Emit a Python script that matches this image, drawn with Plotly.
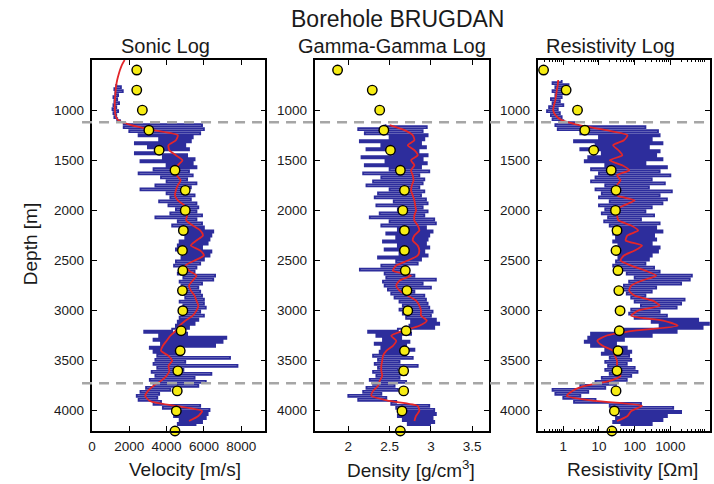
import numpy as np
import plotly.graph_objects as go

# ---------------- data ----------------
STEP_LOG = 20      # m, raw log sampling
STEP_SMOOTH = 50   # m, smoothed curve sampling
STEP_DOTS = 200    # m, dots sampling

dots_depth_start = 600
sonic_dots = [2400, 2400, 2700, 3050, 3600, 4450, 5000, 5000, 4900, 4850,
              4870, 4850, 4870, 4780, 4730, 4600, 4570, 4520, 4450]
density_dots = [1.87, 2.29, 2.38, 2.43, 2.51, 2.63, 2.68, 2.66, 2.68, 2.68,
                2.69, 2.71, 2.72, 2.70, 2.68, 2.67, 2.67, 2.65, 2.63]
resist_dots = [0.28, 1.2, 2.5, 4.0, 7.1, 22, 30, 29, 32, 30,
               34, 36, 39, 37, 34, 32, 30, 27, 23]

sonic_smooth_start = 500
sonic_smooth = [1750, 1600, 1500, 1420, 1350, 1300, 1270, 1250, 1230, 1220,
                1230, 1260, 1400, 2100, 3300, 4600, 4500, 4100, 4150, 4500,
                4850, 4600, 4500, 4550, 4750, 4600, 4500, 4450, 4600, 4950,
                5150, 5100, 5050, 5400, 5800, 5950, 5600, 5300, 5800, 6000,
                5500, 5000, 5200, 5600, 5400, 5200, 5300, 5500, 5600, 5700,
                5600, 5400, 5000, 4700, 4500, 4200, 4000, 3800, 3700, 4100,
                4300, 4100, 4150, 4000, 3700, 3300, 3000, 2850, 3100, 4500,
                5900, 5700, 5200]

density_smooth_start = 1150
density_smooth = [2.50, 2.68, 2.78, 2.80, 2.72, 2.80, 2.84, 2.76, 2.80, 2.76,
                  2.78, 2.79, 2.77, 2.76, 2.78, 2.80, 2.81, 2.82, 2.80, 2.80,
                  2.84, 2.86, 2.80, 2.78, 2.84, 2.86, 2.84, 2.72, 2.58, 2.54,
                  2.76, 2.62, 2.58, 2.62, 2.72, 2.82, 2.86, 2.88, 2.88, 2.95,
                  2.86, 2.66, 2.52, 2.58, 2.54, 2.46, 2.42, 2.41, 2.40, 2.40,
                  2.41, 2.38, 2.36, 2.30, 2.28, 2.50, 2.84, 2.86, 2.82, 2.80]

resist_smooth_start = 700
resist_smooth = [0.72, 0.70, 0.66, 0.63, 0.60, 0.55, 0.52, 0.60, 0.90, 2.8,
                 16, 63, 50, 25, 35, 45, 20, 45, 70, 32,
                 40, 32, 40, 32, 100, 50, 28, 32, 35, 80,
                 125, 63, 56, 160, 100, 50, 40, 80, 200, 400,
                 160, 80, 70, 100, 320, 500, 125, 80, 630, 1600,
                 100, 16, 9, 12.6, 25, 28, 32, 32, 35, 40,
                 20, 4, 1.8, 1.26, 8, 160, 80, 63, 32]

sonic_raw_start = 740
sonic_raw = [1300, 1550, 1200, 1650, 1250, 1400, 1150, 1350, 1200, 1450,
             1150, 1300, 1100, 1400, 1150, 1300, 1200, 1350, 1500, 1700,
             5900, 1700, 6000, 2000, 5800, 2500, 5400, 3600, 5300, 2300,
             5000, 3000, 5200, 3500, 2300, 5100, 3800, 5500, 2600, 5400,
             4000, 5600, 3300, 5200, 2500, 5400, 3700, 5100, 4000, 5600,
             3400, 5300, 2600, 5000, 4000, 5500, 4200, 5300, 3600, 5600,
             4100, 5700, 4500, 5600, 4200, 5900, 3400, 5600, 4600, 5900,
             4300, 6000, 4700, 6500, 4800, 6400, 5000, 6300, 4700, 6200,
             4600, 5900, 4500, 6400, 5000, 6300, 4800, 6000, 4500, 5800,
             4400, 5600, 4700, 5500, 4600, 6600, 4900, 6500, 4700, 5900,
             4800, 5700, 4700, 5800, 4900, 5900, 5000, 6000, 4700, 6000,
             4900, 6100, 5000, 5800, 4800, 6000, 4700, 5700, 4600, 5500,
             4500, 5200, 4300, 2800, 5100, 3600, 7200, 3300, 7000, 3700,
             6600, 3100, 4800, 3300, 4600, 3500, 7400, 3400, 5000, 3300,
             7800, 3500, 4900, 3200, 6400, 3400, 5500, 3100, 6100, 3300,
             5700, 2900, 4200, 2600, 3600, 2400, 3500, 2500, 3700, 3300,
             5800, 3800, 6300, 4600, 6200, 4400, 6100, 4700, 5900, 4600,
             5600]

density_raw_start = 1140
density_raw = [2.45, 2.95, 2.12, 2.90, 2.20, 2.96, 2.50, 2.92, 2.14, 2.88,
               2.40, 2.94, 2.22, 2.85, 2.55, 2.96, 2.16, 2.90, 2.45, 2.95,
               2.20, 2.88, 2.50, 2.98, 2.18, 2.86, 2.40, 2.92, 2.30, 2.90,
               2.22, 2.86, 2.50, 2.92, 2.36, 2.88, 2.32, 2.94, 2.55, 2.96,
               2.34, 2.90, 2.60, 2.96, 2.38, 2.92, 2.26, 3.04, 2.50, 3.06,
               2.40, 2.94, 2.60, 3.02, 2.46, 2.98, 2.58, 2.96, 2.42, 2.94,
               2.60, 2.98, 2.44, 2.92, 2.62, 2.96, 2.36, 2.88, 2.58, 2.84,
               2.40, 2.70, 2.14, 2.66, 2.44, 2.80, 2.46, 3.06, 2.42, 2.90,
               2.44, 3.00, 2.48, 2.80, 2.52, 2.92, 2.56, 2.94, 2.62, 2.96,
               2.66, 2.98, 2.62, 3.02, 2.66, 3.00, 2.70, 3.06, 2.76, 3.10,
               2.74, 3.04, 2.60, 2.24, 2.76, 2.34, 2.64, 2.42, 2.74, 2.32,
               2.70, 2.40, 2.80, 2.38, 2.66, 2.30, 2.78, 2.36, 2.62, 2.32,
               2.84, 2.36, 2.60, 2.30, 2.70, 2.34, 2.62, 2.26, 2.70, 2.30,
               2.56, 2.22, 2.60, 2.18, 2.40, 2.00, 2.46, 2.12, 2.58, 2.52,
               2.98, 2.58, 3.04, 2.70, 3.06, 2.60, 3.02, 2.66, 3.04, 2.72,
               3.00]

resist_raw_start = 700
resist_raw = [0.9, 0.5, 1.4, 0.6, 1.3, 0.5, 1.1, 0.6, 0.9, 0.45,
              0.8, 0.5, 1.0, 0.4, 0.7, 0.35, 0.8, 0.45, 0.9, 0.5,
              1.0, 2.0, 0.6, 200, 0.7, 450, 3, 500, 10, 300,
              2, 600, 8, 250, 3, 500, 12, 400, 5, 600,
              4, 200, 15, 800, 6, 500, 10, 1000, 8, 300,
              6, 700, 15, 250, 8, 1100, 12, 500, 10, 800,
              20, 600, 10, 300, 15, 200, 12, 350, 18, 150,
              14, 500, 20, 400, 30, 600, 25, 350, 30, 400,
              25, 300, 35, 500, 40, 450, 30, 300, 35, 250,
              30, 200, 25, 350, 40, 500, 60, 4000, 100, 3500,
              70, 2000, 50, 400, 40, 300, 60, 200, 80, 2500,
              100, 2000, 150, 1500, 80, 500, 70, 800, 100, 6000,
              300, 12000, 500, 8000, 40, 1500, 6, 300, 5, 50,
              4, 30, 6, 60, 15, 80, 12, 70, 20, 80,
              15, 60, 18, 100, 15, 120, 20, 80, 12, 60,
              8, 30, 3, 15, 0.5, 5, 0.6, 3, 1.0, 8,
              2, 150, 20, 1200, 30, 2000, 40, 800, 30, 600,
              25, 300, 40]

marker_depths = [1120, 3725]

x_ticks_sonic = [0, 2000, 4000, 6000, 8000]
x_ticks_density = [2, 2.5, 3, 3.5]
x_ticks_resist = [1, 10, 100, 1000]
y_ticks = [1000, 1500, 2000, 2500, 3000, 3500, 4000]


def depths(start, step, values):
    return start + step * np.arange(len(values))


# ---------------- styling ----------------
FONT = "Liberation Sans, Arial, Helvetica, sans-serif"
BLUE = "#2d2d9c"
RED = "#e3262a"
YELLOW = "#f6ec14"
TXT = "#1a1a1a"

W, H = 714, 484
L, R, T, B = 92, 2, 60, 53
PW, PH = W - L - R, H - T - B


def px_x(px):
    return (px - L) / PW


def px_y(py):
    return (H - B - py) / PH


panel_px = [(92, 266), (316, 490), (539, 712)]
doms = [[px_x(a), px_x(b)] for a, b in panel_px]

fig = go.Figure()

panels = [
    (sonic_raw_start, sonic_raw, sonic_smooth_start, sonic_smooth, sonic_dots, "x", "y"),
    (density_raw_start, density_raw, density_smooth_start, density_smooth, density_dots, "x2", "y2"),
    (resist_raw_start, resist_raw, resist_smooth_start, resist_smooth, resist_dots, "x3", "y3"),
]
for rs, rv, ss, sv, dv, xa, ya in panels:
    fig.add_trace(go.Scatter(x=rv, y=depths(rs, STEP_LOG, rv), mode="lines",
                             line=dict(color=BLUE, width=1.85, shape="vh"), xaxis=xa, yaxis=ya,
                             showlegend=False, hoverinfo="skip"))
    fig.add_trace(go.Scatter(x=sv, y=depths(ss, STEP_SMOOTH, sv), mode="lines",
                             line=dict(color=RED, width=1.8, shape="spline", smoothing=0.6),
                             xaxis=xa, yaxis=ya, showlegend=False, hoverinfo="skip"))
    fig.add_trace(go.Scatter(x=dv, y=depths(dots_depth_start, STEP_DOTS, dv), mode="markers",
                             marker=dict(color=YELLOW, size=9.5, line=dict(color="black", width=1.4)),
                             cliponaxis=False, xaxis=xa, yaxis=ya, showlegend=False))

axis_common = dict(showline=True, linecolor="black", linewidth=1.5, mirror="ticks",
                   ticks="inside", ticklen=5, tickwidth=1, tickcolor="black",
                   showgrid=False, zeroline=False,
                   tickfont=dict(family=FONT, size=13.5, color=TXT))

fig.update_layout(
    width=W, height=H, margin=dict(l=L, r=R, t=T, b=B),
    paper_bgcolor="white", plot_bgcolor="white",
    xaxis=dict(domain=doms[0], range=[0, 9300], tickvals=x_ticks_sonic, anchor="y",
               ticklabelstandoff=2, **axis_common),
    xaxis2=dict(domain=doms[1], range=[1.6, 3.7], tickvals=x_ticks_density,
                ticktext=[f"{v:g}" for v in x_ticks_density], anchor="y2",
                ticklabelstandoff=2, **axis_common),
    xaxis3=dict(domain=doms[2], type="log", range=[np.log10(0.19), np.log10(12900)],
                tickvals=x_ticks_resist, ticktext=[str(v) for v in x_ticks_resist], anchor="y3",
                ticklabelstandoff=2,
                minor=dict(ticks="inside", ticklen=2.5, tickcolor="black",
                           tickvals=[m * 10 ** e for e in range(-1, 4) for m in range(2, 10)]),
                **axis_common),
)
y_names = ["y", "y2", "y3"]
for i, name in enumerate(["yaxis", "yaxis2", "yaxis3"]):
    fig.layout[name] = dict(range=[4200, 500], tickvals=y_ticks, showticklabels=False,
                            anchor=["x", "x2", "x3"][i], **axis_common)

for d in marker_depths:
    fig.add_shape(type="line", xref="paper", yref="y", x0=px_x(82), x1=1.0, y0=d, y1=d,
                  line=dict(color="#a6a6a6", width=2.5, dash="10px,7px"), layer="above")

ann = []
# y tick labels, placed by each panel's y axis
for (left_px, _), yref in zip(panel_px, y_names):
    for v in y_ticks:
        ann.append(dict(text=str(v), x=px_x(left_px - 6), y=v, xref="paper", yref=yref,
                        showarrow=False, xanchor="right", yanchor="middle",
                        font=dict(family=FONT, size=13.5, color=TXT)))

titles = []
titles.append(dict(text="Borehole BRUGDAN", x=px_x(398), y=px_y(19), font=dict(size=23)))
for t, cx in [("Sonic Log", 166), ("Gamma-Gamma Log", 393), ("Resistivity Log", 612)]:
    titles.append(dict(text=t, x=px_x(cx), y=px_y(46), font=dict(size=20)))
for t, cx in [("Velocity [m/s]", 185), ("Density [g/cm<sup>3</sup>]", 412),
              ("Resistivity [Ωm]", 634)]:
    titles.append(dict(text=t, x=px_x(cx), y=px_y(469), font=dict(size=19)))
titles.append(dict(text="Depth [m]", x=px_x(30), y=px_y(244), textangle=-90, font=dict(size=19)))
for a in titles:
    a.update(xref="paper", yref="paper", showarrow=False, xanchor="center", yanchor="middle")
    a["font"].update(family=FONT, color=TXT)
fig.update_layout(annotations=ann + titles)

fig.write_html("out.html", config={"displayModeBar": False},
               post_script="document.body.style.margin='0';")
